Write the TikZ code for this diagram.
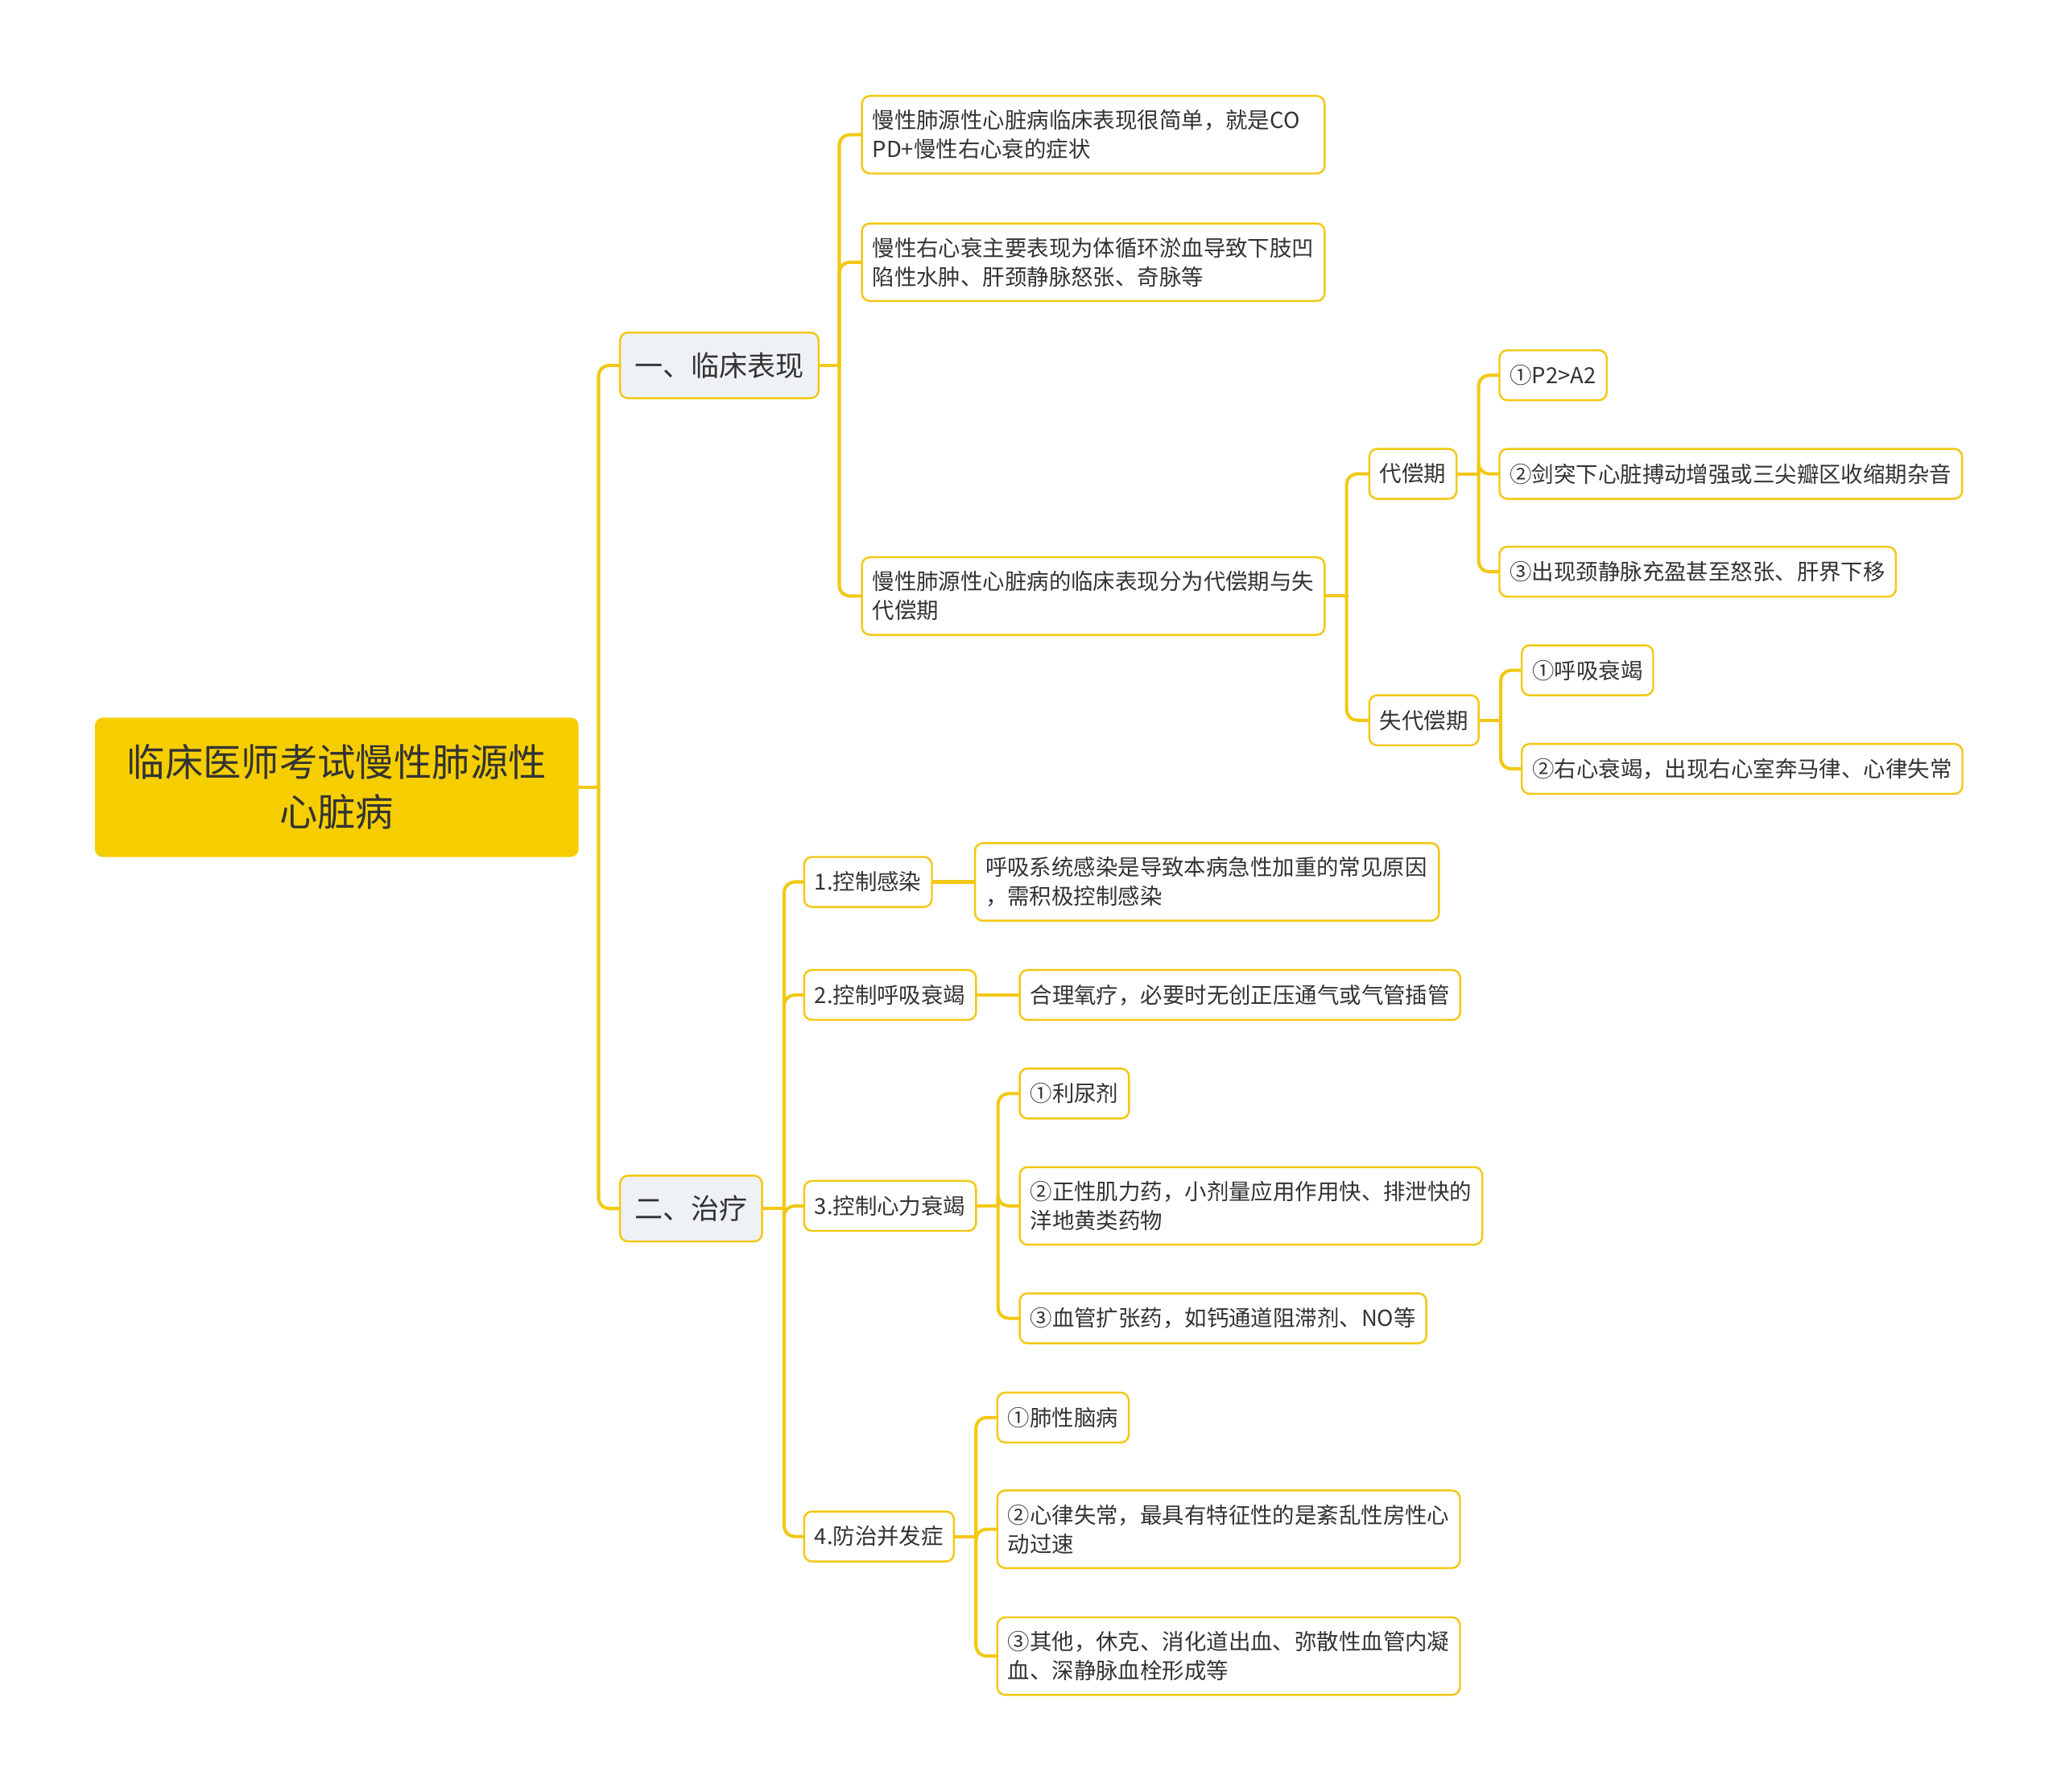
\documentclass[tikz,border=0pt]{standalone}
\usepackage{fontspec}
\setmainfont{Noto Sans CJK SC}
\definecolor{branch}{RGB}{242,200,20}
\definecolor{rootfill}{RGB}{246,206,0}
\definecolor{topicfill}{RGB}{239,242,245}
\definecolor{ink}{RGB}{51,51,51}
\begin{document}
\begin{tikzpicture}[x=1pt,y=-1pt,
  rootbox/.style={fill=rootfill, rounded corners=6pt, minimum width=368pt, minimum height=106pt, align=center, text=ink, font=\fontsize{29}{38}\selectfont, anchor=west},
  topic/.style={draw=branch, line width=1.5pt, fill=topicfill, rounded corners=6pt, minimum height=50pt, inner xsep=11pt, text=ink, font=\fontsize{21.5}{26}\selectfont, anchor=west},
  leaf/.style={draw=branch, line width=1.5pt, fill=white, rounded corners=6pt, minimum height=38pt, inner xsep=8pt, align=left, text=ink, font=\fontsize{16.8}{22}\selectfont, anchor=west},
  wide/.style={leaf, text width=336pt, minimum height=59pt},
  link/.style={draw=branch, line width=2.5pt, rounded corners=8pt, line cap=round}]
\useasboundingbox (0,0) rectangle (1568,1363);
\node[rootbox] (root) at (72,599) {临床医师考试慢性肺源性\\心脏病};
\node[topic] (t1) at (471,278) {一、临床表现};
\node[topic] (t2) at (471,919.5) {二、治疗};
\node[wide] (a1) at (655,102.5) {慢性肺源性心脏病临床表现很简单，就是CO\\PD+慢性右心衰的症状};
\node[wide] (a2) at (655,199.5) {慢性右心衰主要表现为体循环淤血导致下肢凹\\陷性水肿、肝颈静脉怒张、奇脉等};
\node[wide] (a3) at (655,453.5) {慢性肺源性心脏病的临床表现分为代偿期与失\\代偿期};
\node[leaf] (b1) at (1041,360.5) {代偿期};
\node[leaf] (b2) at (1041,548) {失代偿期};
\node[leaf] (c1) at (1140,285.5) {①P2>A2};
\node[leaf] (c2) at (1140,360.5) {②剑突下心脏搏动增强或三尖瓣区收缩期杂音};
\node[leaf] (c3) at (1140,435) {③出现颈静脉充盈甚至怒张、肝界下移};
\node[leaf] (d1) at (1157,510) {①呼吸衰竭};
\node[leaf] (d2) at (1157,585) {②右心衰竭，出现右心室奔马律、心律失常};
\node[leaf] (e1) at (611,671) {1.控制感染};
\node[wide, text width=337pt] (f1) at (741,671) {呼吸系统感染是导致本病急性加重的常见原因\\，需积极控制感染};
\node[leaf] (e2) at (611,757) {2.控制呼吸衰竭};
\node[leaf] (f2) at (775,757) {合理氧疗，必要时无创正压通气或气管插管};
\node[leaf] (e3) at (611,917.5) {3.控制心力衰竭};
\node[leaf] (g1) at (775,832) {①利尿剂};
\node[wide] (g2) at (775,917.5) {②正性肌力药，小剂量应用作用快、排泄快的\\洋地黄类药物};
\node[leaf] (g3) at (775,1003) {③血管扩张药，如钙通道阻滞剂、NO等};
\node[leaf] (e4) at (611,1169) {4.防治并发症};
\node[leaf] (h1) at (758,1078.5) {①肺性脑病};
\node[wide] (h2) at (758,1163.5) {②心律失常，最具有特征性的是紊乱性房性心\\动过速};
\node[wide] (h3) at (758,1260) {③其他，休克、消化道出血、弥散性血管内凝\\血、深静脉血栓形成等};
\coordinate (j0) at ([xshift=15pt]root.east);
\coordinate (j1) at ([xshift=15pt]t1.east);
\coordinate (j2) at ([xshift=16pt]a3.east);
\coordinate (j3) at ([xshift=16pt]b1.east);
\coordinate (j4) at ([xshift=16pt]b2.east);
\coordinate (j5) at ([xshift=16pt]t2.east);
\coordinate (j6) at ([xshift=16pt]e3.east);
\coordinate (j7) at ([xshift=16pt]e4.east);
\draw[link] (root.east) -- (j0);
\draw[link] (t1.east) -- (j1);
\draw[link] (a3.east) -- (j2);
\draw[link] (b1.east) -- (j3);
\draw[link] (b2.east) -- (j4);
\draw[link] (t2.east) -- (j5);
\draw[link] (e3.east) -- (j6);
\draw[link] (e4.east) -- (j7);
\foreach \n in {t1,t2} \draw[link] (j0) |- (\n.west);
\foreach \n in {a1,a2,a3} \draw[link] (j1) |- (\n.west);
\foreach \n in {b1,b2} \draw[link] (j2) |- (\n.west);
\foreach \n in {c1,c2,c3} \draw[link] (j3) |- (\n.west);
\foreach \n in {d1,d2} \draw[link] (j4) |- (\n.west);
\foreach \n in {e1,e2,e3,e4} \draw[link] (j5) |- (\n.west);
\foreach \n in {g1,g2,g3} \draw[link] (j6) |- (\n.west);
\foreach \n in {h1,h2,h3} \draw[link] (j7) |- (\n.west);
\draw[link] (e1.east) -- (f1.west);
\draw[link] (e2.east) -- (f2.west);
\end{tikzpicture}
\end{document}
